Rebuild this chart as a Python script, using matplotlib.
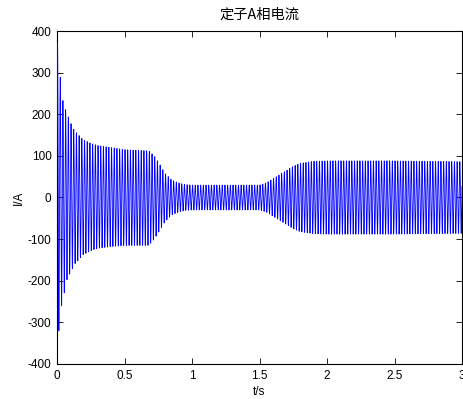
"""
Stator phase-A current (MATLAB-style figure).
Output: out.png (463x399 px)
"""

import numpy as np
import matplotlib
matplotlib.use("Agg")
import matplotlib.pyplot as plt

plt.rcParams["font.family"] = ["Liberation Sans", "Noto Sans CJK SC"]
plt.rcParams["axes.unicode_minus"] = False

# ---------------------------------------------------------------------------
# Data
#   envelope knots: time (s) -> upper / lower peak of the current (A)
# ---------------------------------------------------------------------------
env_t = [0.0, 0.008, 0.02, 0.045, 0.07, 0.1, 0.13, 0.16, 0.19, 0.25, 0.3,
         0.4, 0.5, 0.68, 0.72, 0.76, 0.8, 0.85, 0.9, 0.95, 1.0, 1.5,
         1.55, 1.6, 1.65, 1.7, 1.75, 1.8, 1.9, 2.0, 2.5, 3.0]
env_upper = [370, 370, 300, 230, 205, 180, 160, 150, 140, 130, 125,
             120, 115, 112, 100, 80, 58, 42, 35, 31, 30, 30,
             35, 45, 55, 65, 75, 82, 87, 88, 88, 86]
env_lower = [-360, -360, -280, -245, -200, -180, -160, -150, -138, -128, -122,
             -118, -115, -115, -100, -80, -58, -42, -35, -31, -30, -30,
             -35, -45, -55, -65, -75, -82, -87, -88, -88, -86]

F_SUPPLY = 50.0      # Hz, supply frequency
T_PEAK0 = 0.004      # s, time of the first positive peak
DT = 1e-3            # s, simulation output step
T_END = 3.0

t = np.arange(0.0, T_END + DT / 2, DT)
up = np.interp(t, env_t, env_upper)
lo = np.interp(t, env_t, env_lower)
mid = (up + lo) / 2
amp = (up - lo) / 2
i_a = mid + amp * np.cos(2 * np.pi * F_SUPPLY * (t - T_PEAK0))

# ---------------------------------------------------------------------------
# Plot
# ---------------------------------------------------------------------------
W, H = 463, 399
fig = plt.figure(figsize=(W / 100, H / 100), dpi=100)
ax = fig.add_axes([57 / W, 1 - 364 / H, 405 / W, 333 / H])

# drawn above the axes box so the first spike stays visible at the left edge
ax.plot(t, i_a, color=(0, 0, 1), linewidth=0.6, zorder=3)

ax.set_xlim(0, 3)
ax.set_ylim(-400, 400)
ax.set_xticks([0, 0.5, 1, 1.5, 2, 2.5, 3])
ax.set_xticklabels(["0", "0.5", "1", "1.5", "2", "2.5", "3"])
ax.set_yticks(range(-400, 401, 100))
ax.tick_params(direction="in", top=True, right=True, length=4, width=0.6,
               labelsize=8.5, pad=4)
for s in ax.spines.values():
    s.set_linewidth(0.8)

ax.set_title("定子A相电流", fontsize=10.3, pad=9,
             family=["Noto Sans CJK SC", "DejaVu Sans"])
ax.set_xlabel("t/s", fontsize=8.5, labelpad=3)
ax.set_ylabel("I/A", fontsize=8.5, labelpad=2)

fig.savefig("out.png", dpi=100)
